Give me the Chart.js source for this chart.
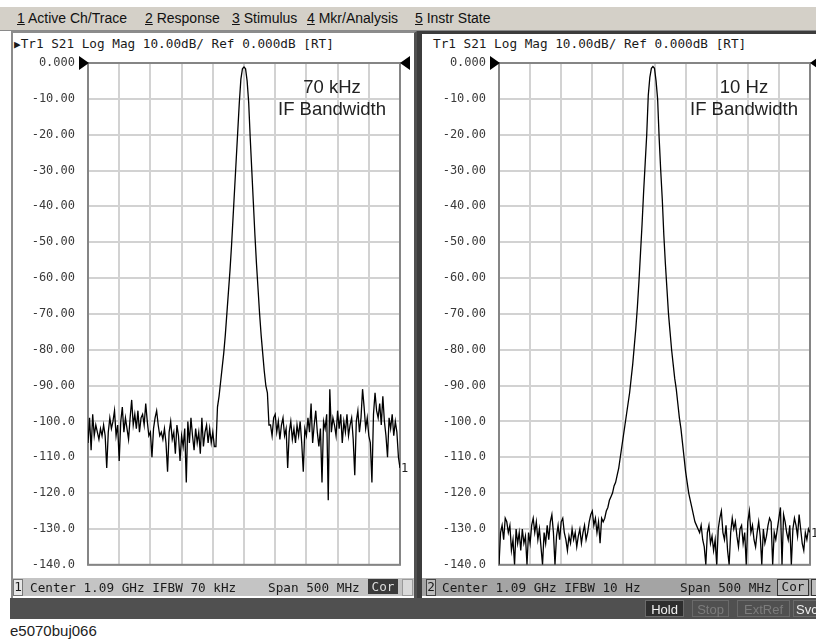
<!DOCTYPE html>
<html><head><meta charset="utf-8">
<script src="https://cdn.jsdelivr.net/npm/chart.js@4.4.1/dist/chart.umd.min.js"></script>
<style>
body{margin:0;width:816px;height:639px;position:relative;background:#fff;overflow:hidden;font-family:"Liberation Sans",Arial,sans-serif;color:#1a1a1a}
.a{position:absolute}
.mono{font-family:"DejaVu Sans Mono",monospace;font-size:12.7px;white-space:pre;line-height:15px}
.menu{font-size:14px;line-height:16px;top:10px;white-space:pre;color:#111}
.ann{font-size:18.5px;line-height:22px;color:#222;text-align:center;width:160px}
.btn{top:600px;height:17px;font-size:13px;line-height:17px;text-align:center;border:1px solid #6a6a6a;box-sizing:border-box}
canvas{position:absolute}
</style>
</head><body>
<div class="a" style="left:0;top:7px;width:816px;height:23px;background:#d4d0c8;border-bottom:1px solid #8a8a8a"></div>
<span class="a menu" style="left:17px"><u>1</u> Active Ch/Trace</span>
<span class="a menu" style="left:145px"><u>2</u> Response</span>
<span class="a menu" style="left:232px"><u>3</u> Stimulus</span>
<span class="a menu" style="left:307px"><u>4</u> Mkr/Analysis</span>
<span class="a menu" style="left:415px"><u>5</u> Instr State</span>

<!-- left window -->
<div class="a" style="left:11px;top:31px;width:401px;height:565px;background:#fff;border:2px solid #8c8c8c;border-right:3px solid #505050"></div>
<!-- right window -->
<div class="a" style="left:417px;top:31px;width:399px;height:567px;background:#fff;border-left:5px solid #3c3c3c;border-top:3px solid #3c3c3c;box-sizing:border-box"></div>

<span class="a mono" style="left:14px;top:36px"><span style="font-size:11px">▶</span>Tr1 S21 Log Mag 10.00dB/ Ref 0.000dB [RT]</span>
<span class="a mono" style="left:433px;top:36px">Tr1 S21 Log Mag 10.00dB/ Ref 0.000dB [RT]</span>

<canvas id="c1" width="416" height="585" style="left:0;top:0"></canvas>
<canvas id="c2" width="405" height="585" style="left:411px;top:0"></canvas>

<div class="a ann" style="left:252px;top:76px">70 kHz<br>IF Bandwidth</div>
<div class="a ann" style="left:664px;top:76px">10 Hz<br>IF Bandwidth</div>

<!-- status bars -->
<div class="a" style="left:13px;top:578px;width:401px;height:18px;background:#c4c4c4"></div>
<span class="a mono" style="left:13px;top:579px;width:8px;height:15px;background:#e6e6e6;border:1px solid #777;line-height:14px;text-align:center">1</span>
<span class="a mono" style="left:30px;top:580px">Center 1.09 GHz IFBW 70 kHz</span>
<span class="a mono" style="left:268px;top:580px">Span 500 MHz</span>
<span class="a mono" style="left:368px;top:579px;width:30px;height:15px;background:#3a3a3a;color:#dcdcdc;line-height:15px;text-align:center">Cor</span>
<div class="a" style="left:402px;top:579px;width:9px;height:15px;background:#dadada;border:1px solid #9a9a9a"></div>

<div class="a" style="left:422px;top:578px;width:394px;height:18px;background:#a4a4a4"></div>
<span class="a mono" style="left:426px;top:579px;width:8px;height:15px;background:#bcbcbc;border:1px solid #444;line-height:14px;text-align:center">2</span>
<span class="a mono" style="left:442px;top:580px">Center 1.09 GHz IFBW 10 Hz</span>
<span class="a mono" style="left:680px;top:580px">Span 500 MHz</span>
<span class="a mono" style="left:777px;top:579px;width:30px;height:15px;background:#b8b8b8;border:1px solid #333;line-height:14px;text-align:center">Cor</span>
<div class="a" style="left:811px;top:579px;width:9px;height:15px;background:#bcbcbc;border:1px solid #333"></div>

<!-- bottom bar -->
<div class="a" style="left:10px;top:598px;width:806px;height:21px;background:#505050"></div>
<div class="a btn" style="left:645px;width:39px;background:#2e2e2e;color:#f2f2f2">Hold</div>
<div class="a btn" style="left:692px;width:37px;color:#7c7c7c">Stop</div>
<div class="a btn" style="left:737px;width:53px;color:#7c7c7c">ExtRef</div>
<div class="a btn" style="left:793px;width:30px;color:#ededed;text-align:left;padding-left:2px">Svc</div>

<div class="a" style="left:10px;top:622px;font-size:15px;line-height:18px;color:#222">e5070buj066</div>

<script>
// ---- data ----
const centerMHz = 1090;
const spanMHz = 500;
const nPoints = 201;
const freqMHz = Array.from({length: nPoints}, (_, i) => centerMHz - spanMHz / 2 + i * spanMHz / (nPoints - 1));

const tickLabels = ['0.000','-10.00','-20.00','-30.00','-40.00','-50.00','-60.00','-70.00','-80.00','-90.00','-100.0','-110.0','-120.0','-130.0','-140.0'];

// S21 log mag (dB), IFBW 70 kHz
const traceIFBW70kHz = [
-106,-99,-108,-98,-104,-101,-103,-105,-102,-104,
-101,-104,-113,-103,-99,-102,-100,-97,-104,-101,
-111,-100,-96,-103,-99,-102,-105,-99,-94,-101,
-98,-102,-97,-103,-99,-98,-101,-95,-100,-104,
-103,-110,-102,-99,-97,-101,-104,-103,-105,-102,
-106,-114,-103,-100,-105,-103,-109,-101,-104,-111,
-104,-107,-102,-117,-100,-106,-99,-104,-108,-102,
-106,-103,-109,-99,-107,-103,-101,-106,-102,-106,
-103,-107,-107,-96,-93,-89,-85,-81,-76,-70,
-64,-58,-51,-43,-35,-27,-19,-11,-4.5,-1.6,
-1.1,-1.6,-5,-11,-21,-30,-39,-48,-56,-63,
-70,-76,-81,-86,-90,-92,-101,-101,-104,-99,
-98,-103,-100,-105,-101,-99,-104,-102,-113,-103,
-100,-105,-102,-106,-101,-104,-100,-106,-114,-102,
-104,-99,-103,-95,-106,-101,-97,-103,-107,-102,
-117,-100,-102,-98,-122,-91,-103,-99,-101,-104,
-97,-102,-98,-106,-100,-103,-98,-104,-101,-99,
-105,-115,-100,-97,-103,-99,-91,-96,-102,-99,
-104,-106,-117,-98,-92,-97,-99,-95,-101,-93,
-100,-104,-110,-99,-102,-98,-104,-100,-103,-110,
-113
];

// S21 log mag (dB), IFBW 10 Hz
const traceIFBW10Hz = [
-140,-131,-129,-133,-127,-128,-131,-129,-136,-133,
-140,-130,-134,-131,-136,-130,-134,-132,-140,-131,
-134,-129,-127,-131,-128,-133,-130,-135,-140,-131,
-134,-129,-133,-128,-126,-131,-140,-132,-129,-133,
-128,-127,-131,-133,-136,-132,-134,-130,-133,-131,
-135,-132,-130,-134,-131,-129,-133,-131,-128,-126,
-125,-129,-127,-131,-128,-134,-127,-128,-127,-125,
-124,-122,-121,-120,-118,-117,-115,-113,-110,-107,
-104,-101,-98,-95,-92,-88,-84,-79,-74,-68,
-61,-53,-45,-36,-28,-20,-9,-4,-1.5,-1.0,
-1.5,-5,-10,-21,-30,-38,-48,-56,-63,-70,
-75,-80,-84,-88,-91,-95,-99,-102,-106,-110,
-114,-117,-120,-122,-124,-126,-128,-129,-130,-131,
-129,-133,-135,-140,-131,-129,-134,-132,-136,-133,
-140,-130,-127,-125,-131,-133,-129,-136,-140,-131,
-127,-130,-128,-132,-135,-130,-129,-134,-131,-140,
-128,-125,-131,-129,-133,-135,-131,-128,-132,-140,
-130,-134,-132,-129,-127,-128,-140,-131,-133,-130,
-127,-124,-140,-126,-128,-131,-133,-129,-140,-130,
-127,-129,-132,-126,-130,-134,-136,-131,-133,-130,
-131
];

const refLevel = 0;
const yMin = -140, yMax = 0, yStep = 10;

// ---- drawing ----
const framePlugin = {
  id: 'frame',
  beforeDatasetsDraw(chart) {
    const {ctx, chartArea: a} = chart;
    ctx.save();
    ctx.strokeStyle = '#858585';
    ctx.lineWidth = 2;
    ctx.strokeRect(a.left, a.top, a.right - a.left, a.bottom - a.top);
    ctx.restore();
  },
  afterDraw(chart) {
    const {ctx, chartArea: a} = chart;
    const y0 = chart.scales.y.getPixelForValue(refLevel);
    ctx.save();
    ctx.fillStyle = '#000';
    ctx.beginPath();
    ctx.moveTo(a.left - 9, y0 - 7); ctx.lineTo(a.left + 1, y0); ctx.lineTo(a.left - 9, y0 + 7); ctx.closePath(); ctx.fill();
    ctx.beginPath();
    ctx.moveTo(a.right + 10, y0 - 7); ctx.lineTo(a.right, y0); ctx.lineTo(a.right + 10, y0 + 7); ctx.closePath(); ctx.fill();
    const ds = chart.data.datasets[0].data;
    const last = ds[ds.length - 1];
    ctx.font = '12px "DejaVu Sans Mono"';
    ctx.fillStyle = '#222';
    ctx.textBaseline = 'middle';
    ctx.fillText('1', a.right + 1, chart.scales.y.getPixelForValue(last.y) + 1);
    ctx.restore();
  }
};

function makeChart(id, values, padRight) {
  const cv = document.getElementById(id);
  return new Chart(cv.getContext('2d'), {
    type: 'line',
    data: {
      datasets: [{
        data: freqMHz.map((f, i) => ({x: f, y: values[i]})),
        borderColor: '#000', borderWidth: 1.3, pointRadius: 0, tension: 0, fill: false
      }]
    },
    options: {
      responsive: false, animation: false, devicePixelRatio: 1,
      layout: {padding: {left: 0, top: 63, right: padRight, bottom: 6}},
      plugins: {legend: {display: false}, tooltip: {enabled: false}},
      scales: {
        x: {
          type: 'linear', min: freqMHz[0], max: freqMHz[freqMHz.length - 1],
          ticks: {display: false, stepSize: spanMHz / 10},
          grid: {color: '#d2d2d2', lineWidth: 2, drawTicks: false},
          border: {display: false},
          afterFit: s => { s.height = 0; }
        },
        y: {
          min: yMin, max: yMax,
          ticks: {stepSize: yStep, padding: 13, color: '#3a3a3a',
                  font: {family: 'DejaVu Sans Mono', size: 12},
                  callback: v => tickLabels[Math.round((yMax - v) / yStep)]},
          grid: {color: '#d2d2d2', lineWidth: 2, drawTicks: false},
          border: {display: false},
          afterFit: s => { s.width = 88; }
        }
      }
    },
    plugins: [framePlugin]
  });
}

makeChart('c1', traceIFBW70kHz, 16);
makeChart('c2', traceIFBW10Hz, 6);
</script>
</body></html>
